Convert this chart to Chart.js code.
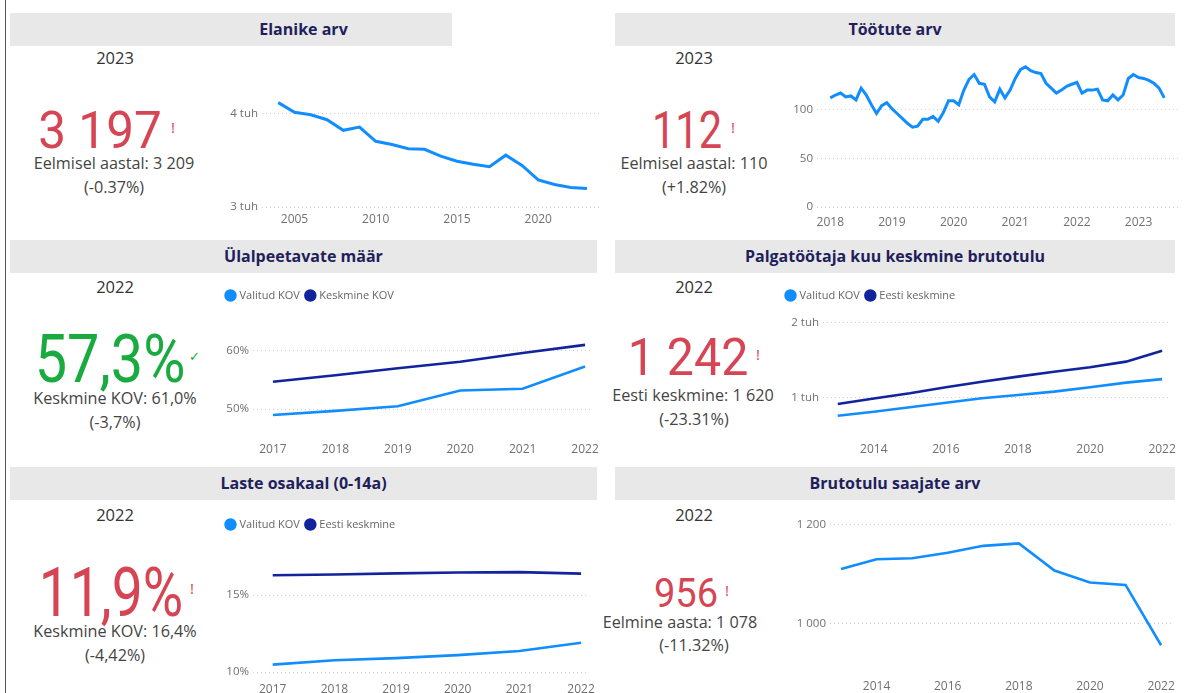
<!DOCTYPE html>
<html>
<head>
<meta charset="utf-8">
<script src="https://cdn.jsdelivr.net/npm/chart.js@4.4.0/dist/chart.umd.min.js"></script>
<style>
  body { margin: 0; width: 1185px; height: 693px; background: #fff; position: relative; overflow: hidden; font-family: "Open Sans", sans-serif; }
  .vline { position: absolute; left: 5px; top: 0; width: 1px; height: 693px; background: #555; }
  .bar { position: absolute; height: 33px; background: #e8e8e8; }
  .hdr { position: absolute; height: 33px; color: #1f1f5c; font-weight: 700; font-size: 16px; line-height: 33px; text-align: center; }
  .t { position: absolute; white-space: nowrap; line-height: 1; transform: translate(-50%, -50%); }
  .year { font-size: 16.5px; color: #333; }
  .sub { font-size: 16.2px; color: #444; }
  .big { font-family: Roboto, sans-serif; font-weight: 400; color: #d64554; }
  .mark { font-size: 15px; color: #d64554; }
  canvas { position: absolute; }
</style>
</head>
<body>
<div class="vline"></div>

<!-- pealkirjad -->
<div class="bar" style="left:10px;top:13px;width:442px"></div>
<div class="bar" style="left:615px;top:13px;width:560px"></div>
<div class="bar" style="left:10px;top:240px;width:587px"></div>
<div class="bar" style="left:615px;top:240px;width:560px"></div>
<div class="bar" style="left:10px;top:467px;width:587px"></div>
<div class="bar" style="left:615px;top:467px;width:560px"></div>
<div class="hdr" style="left:10px;top:13px;width:587px">Elanike arv</div>
<div class="hdr" style="left:615px;top:13px;width:560px">Töötute arv</div>
<div class="hdr" style="left:10px;top:240px;width:587px">Ülalpeetavate määr</div>
<div class="hdr" style="left:615px;top:240px;width:560px">Palgatöötaja kuu keskmine brutotulu</div>
<div class="hdr" style="left:10px;top:467px;width:587px">Laste osakaal (0-14a)</div>
<div class="hdr" style="left:615px;top:467px;width:560px">Brutotulu saajate arv</div>

<!-- KPI kaardid -->
<div class="t year" style="left:115px;top:58px">2023</div>
<div class="t big" style="left:100px;top:131px;font-size:52px;transform:translate(-50%,-50%) scaleX(0.95)">3 197</div>
<div class="t mark" style="left:173px;top:127px">!</div>
<div class="t sub" style="left:114px;top:163px">Eelmisel aastal: 3 209</div>
<div class="t sub" style="left:114px;top:187px">(-0.37%)</div>

<div class="t year" style="left:694px;top:58px">2023</div>
<div class="t big" style="left:687px;top:131px;font-size:52px;transform:translate(-50%,-50%) scaleX(0.8)">112</div>
<div class="t mark" style="left:733px;top:127px">!</div>
<div class="t sub" style="left:694px;top:163px">Eelmisel aastal: 110</div>
<div class="t sub" style="left:694px;top:187px">(+1.82%)</div>

<div class="t year" style="left:115px;top:287px">2022</div>
<div class="t big" style="left:110px;top:359px;font-size:67px;color:#1aab40;transform:translate(-50%,-50%) scaleX(0.86)">57,3%</div>
<div class="t" style="left:194px;top:356px;font-size:13px;color:#1aab40">✓</div>
<div class="t sub" style="left:115px;top:398px">Keskmine KOV: 61,0%</div>
<div class="t sub" style="left:115px;top:422px">(-3,7%)</div>

<div class="t year" style="left:694px;top:287px">2022</div>
<div class="t big" style="left:688px;top:358px;font-size:52px;transform:translate(-50%,-50%) scaleX(0.93)">1 242</div>
<div class="t mark" style="left:758px;top:354px">!</div>
<div class="t sub" style="left:693px;top:395px">Eesti keskmine: 1 620</div>
<div class="t sub" style="left:694px;top:419px">(-23.31%)</div>

<div class="t year" style="left:115px;top:515px">2022</div>
<div class="t big" style="left:111px;top:592px;font-size:69px;transform:translate(-50%,-50%) scaleX(0.8)">11,9%</div>
<div class="t mark" style="left:192px;top:588px">!</div>
<div class="t sub" style="left:115px;top:631px">Keskmine KOV: 16,4%</div>
<div class="t sub" style="left:115px;top:655px">(-4,42%)</div>

<div class="t year" style="left:694px;top:515px">2022</div>
<div class="t big" style="left:686px;top:594px;font-size:40px;transform:translate(-50%,-50%) scaleX(0.95)">956</div>
<div class="t mark" style="left:727px;top:590px">!</div>
<div class="t sub" style="left:680px;top:622px">Eelmine aasta: 1 078</div>
<div class="t sub" style="left:694px;top:645px">(-11.32%)</div>

<canvas id="c1" width="385" height="145" style="left:220px;top:85px"></canvas>
<canvas id="c2" width="402" height="180" style="left:780px;top:50px"></canvas>
<canvas id="c3" width="385" height="177" style="left:220px;top:283px"></canvas>
<canvas id="c4" width="402" height="177" style="left:780px;top:283px"></canvas>
<canvas id="c5" width="385" height="181" style="left:220px;top:512px"></canvas>
<canvas id="c6" width="402" height="188" style="left:780px;top:505px"></canvas>

<script>
// Andmed
const elanikeAastad = [2004, 2005, 2006, 2007, 2008, 2009, 2010, 2011, 2012, 2013, 2014, 2015, 2016, 2017, 2018, 2019, 2020, 2021, 2022, 2023];
const elanikeArv = [4113, 4010, 3983, 3931, 3818, 3852, 3701, 3667, 3622, 3615, 3543, 3488, 3457, 3430, 3553, 3443, 3289, 3240, 3209, 3197];

// töötud kuude kaupa, 2018 jaanuar - 2023 juuni
const tootuteArv = [
  112, 115, 117, 113, 114, 110, 122, 115, 105, 96, 104, 107,
  101, 96, 91, 86, 82, 83, 90, 90, 93, 88, 97, 109,
  109, 105, 120, 131, 136, 127, 126, 113, 108, 121, 112, 120,
  132, 141, 144, 140, 138, 137, 127, 122, 117, 120, 124, 126,
  128, 117, 120, 120, 121, 110, 109, 115, 110, 115, 132, 136,
  133, 132, 130, 127, 122, 112
];
const tootuteKuud = tootuteArv.map((_, i) => 2018 + i / 12);

const ylalAastad = [2017, 2018, 2019, 2020, 2021, 2022];
const ylalValitud = [49.0, 49.7, 50.5, 53.2, 53.5, 57.3];
const ylalKeskmine = [54.7, 55.8, 57.0, 58.1, 59.6, 61.0];

const palkAastad = [2013, 2014, 2015, 2016, 2017, 2018, 2019, 2020, 2021, 2022];
const palkValitud = [755, 808, 867, 928, 987, 1031, 1075, 1133, 1195, 1242];
const palkEesti = [911, 985, 1053, 1133, 1208, 1275, 1341, 1400, 1475, 1620];

const lasteAastad = [2017, 2018, 2019, 2020, 2021, 2022];
const lasteValitud = [10.48, 10.76, 10.9, 11.1, 11.37, 11.9];
const lasteEesti = [16.3, 16.35, 16.42, 16.48, 16.5, 16.4];

const saajadAastad = [2013, 2014, 2015, 2016, 2017, 2018, 2019, 2020, 2021, 2022];
const saajateArv = [1110, 1130, 1132, 1143, 1157, 1162, 1107, 1083, 1078, 956];

const HELE = "#118dff";
const TUME = "#12239e";

// legendi kõrguse fikseerimine
const legendHeight = {
  id: "legendHeight",
  beforeLayout(chart, args, opts) {
    if (!chart.legend || !opts.h || chart.legend._fixed) return;
    const fit = chart.legend.fit;
    chart.legend.fit = function () { fit.call(this); this.height = opts.h; };
    chart.legend._fixed = true;
  }
};
Chart.register(legendHeight);

const fmtTuh = (v) => (v / 1000) + " tuh";
const fmtPct = (v) => v + "%";
const fmtSpace = (v) => String(v).replace(/\B(?=(\d{3})+(?!\d))/g, " ");

function joonis(id, c) {
  const datasets = c.series.map((s) => ({
    label: s.label,
    data: c.x.map((x, i) => ({ x: x, y: s.values[i] })),
    borderColor: s.color,
    backgroundColor: s.color,
    borderWidth: c.lw || 2.6,
    pointRadius: 0,
    tension: 0,
  }));
  return new Chart(document.getElementById(id), {
    type: "line",
    data: { datasets },
    options: {
      responsive: false,
      animation: false,
      layout: { padding: { top: c.padTop || 0, right: c.padRight || 0 } },
      plugins: {
        tooltip: { enabled: false },
        legendHeight: { h: c.legendH || 0 },
        legend: c.legendH
          ? {
              display: true,
              position: "top",
              align: "start",
              labels: {
                usePointStyle: true,
                pointStyle: "circle",
                boxWidth: 7,
                boxHeight: 7,
                padding: 7,
                color: "#666",
                font: { family: "Open Sans", size: 11 },
              },
            }
          : { display: false },
      },
      scales: {
        x: {
          type: "linear",
          min: c.xMin,
          max: c.xMax,
          afterBuildTicks: (s) => { s.ticks = c.xTicks.map((v) => ({ value: v })); },
          afterFit: (s) => { s.height = c.xH; },
          grid: { display: false, drawTicks: false },
          border: { display: false },
          ticks: { color: "#707070", padding: c.xPad, maxRotation: 0, autoSkip: false, font: { family: "Open Sans", size: 12 }, callback: (v) => String(v) },
        },
        y: {
          min: c.yMin,
          max: c.yMax,
          afterBuildTicks: (s) => { s.ticks = c.yTicks.map((v) => ({ value: v })); },
          afterFit: (s) => { s.width = c.yW; },
          grid: { color: "#cfcfcf", drawTicks: false, lineWidth: 1 },
          border: { display: false, dash: [1, 3] },
          ticks: { color: "#707070", padding: 4, font: { family: "Open Sans", size: 11.5 }, callback: c.yFmt },
        },
      },
    },
  });
}

joonis("c1", {
  x: elanikeAastad,
  series: [{ label: "Elanike arv", values: elanikeArv, color: HELE }],
  lw: 3, padTop: 7, padRight: 5,
  xMin: 2003, xMax: 2023.8, xTicks: [2005, 2010, 2015, 2020], xH: 23, xPad: 5,
  yMin: 3000, yMax: 4185, yTicks: [3000, 4000], yW: 42, yFmt: fmtTuh,
});

joonis("c2", {
  x: tootuteKuud,
  series: [{ label: "Töötute arv", values: tootuteArv, color: HELE }],
  lw: 3, padTop: 7, padRight: 4,
  xMin: 2017.784, xMax: 2023.64, xTicks: [2018, 2019, 2020, 2021, 2022, 2023], xH: 23, xPad: 8,
  yMin: 0, yMax: 150, yTicks: [0, 50, 100], yW: 37, yFmt: (v) => String(v),
});

joonis("c3", {
  x: ylalAastad,
  series: [
    { label: "Valitud KOV", values: ylalValitud, color: HELE },
    { label: "Keskmine KOV", values: ylalKeskmine, color: TUME },
  ],
  legendH: 35, padRight: 12,
  xMin: 2016.68, xMax: 2022.1, xTicks: ylalAastad, xH: 24, xPad: 6,
  yMin: 45.4, yMax: 65.6, yTicks: [50, 60], yW: 33, yFmt: fmtPct,
});

joonis("c4", {
  x: palkAastad,
  series: [
    { label: "Valitud KOV", values: palkValitud, color: HELE },
    { label: "Eesti keskmine", values: palkEesti, color: TUME },
  ],
  legendH: 35, padRight: 9,
  xMin: 2012.59, xMax: 2022.19, xTicks: [2014, 2016, 2018, 2020, 2022], xH: 24, xPad: 6,
  yMin: 484, yMax: 2057, yTicks: [1000, 2000], yW: 43, yFmt: fmtTuh,
});

joonis("c5", {
  x: lasteAastad,
  series: [
    { label: "Valitud KOV", values: lasteValitud, color: HELE },
    { label: "Eesti keskmine", values: lasteEesti, color: TUME },
  ],
  legendH: 38, padRight: 12,
  xMin: 2016.68, xMax: 2022.1, xTicks: lasteAastad, xH: 21, xPad: 10,
  yMin: 10, yMax: 17.94, yTicks: [10, 15], yW: 33, yFmt: fmtPct,
});

joonis("c6", {
  x: saajadAastad,
  series: [{ label: "Brutotulu saajate arv", values: saajateArv, color: HELE }],
  padTop: 5, padRight: 5,
  xMin: 2012.69, xMax: 2022.33, xTicks: [2014, 2016, 2018, 2020, 2022], xH: 21, xPad: 7,
  yMin: 902, yMax: 1217.5, yTicks: [1000, 1200], yW: 50, yFmt: fmtSpace,
});
</script>
</body>
</html>
